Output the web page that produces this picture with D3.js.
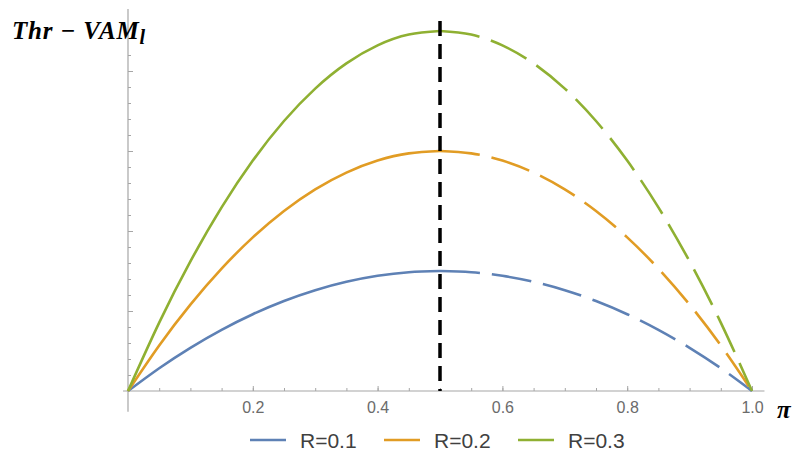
<!DOCTYPE html>
<html>
<head>
<meta charset="utf-8">
<script src="https://cdn.jsdelivr.net/npm/d3@7"></script>
<style>
  body { margin: 0; background: #fff; }
  svg { display: block; }
</style>
</head>
<body>
<div id="chart"></div>
<script>
// datos
const piValues = [0, 0.05, 0.1, 0.15, 0.2, 0.25, 0.3, 0.35, 0.4, 0.45, 0.5,
  0.55, 0.6, 0.65, 0.7, 0.75, 0.8, 0.85, 0.9, 0.95, 1.0];
const serieR01 = [0, 0.285, 0.54, 0.765, 0.96, 1.125, 1.26, 1.365, 1.44, 1.485, 1.5,
  1.485, 1.44, 1.365, 1.26, 1.125, 0.96, 0.765, 0.54, 0.285, 0];
const serieR02 = [0, 0.57, 1.08, 1.53, 1.92, 2.25, 2.52, 2.73, 2.88, 2.97, 3.0,
  2.97, 2.88, 2.73, 2.52, 2.25, 1.92, 1.53, 1.08, 0.57, 0];
const serieR03 = [0, 0.855, 1.62, 2.295, 2.88, 3.375, 3.78, 4.095, 4.32, 4.455, 4.5,
  4.455, 4.32, 4.095, 3.78, 3.375, 2.88, 2.295, 1.62, 0.855, 0];
const seriesLabels = ["R=0.1", "R=0.2", "R=0.3"];
const xTickLabels = [0.2, 0.4, 0.6, 0.8, 1.0];
const umbral = 0.5;

const WIDTH = 795;
const HEIGHT = 464;
const COLORES = ["#5E81B5", "#E19C24", "#8FB032"];

const svg = d3.select("#chart")
  .append("svg")
  .attr("width", WIDTH)
  .attr("height", HEIGHT);

const x = d3.scaleLinear().domain([0, 1]).range([128, 752]);
const y = d3.scaleLinear().domain([0, 4.775]).range([391, 9]);

const gris = "#a6a6a6";

// Ejes
svg.append("line")
  .attr("x1", x(-0.008)).attr("x2", x(1.02))
  .attr("y1", y(0)).attr("y2", y(0))
  .attr("stroke", gris).attr("stroke-width", 1.2);

svg.append("line")
  .attr("x1", x(0)).attr("x2", x(0))
  .attr("y1", y(4.775)).attr("y2", y(-0.26))
  .attr("stroke", gris).attr("stroke-width", 1.2);

// Marcas menores eje x
const ejeXMenor = d3.axisBottom(x)
  .tickValues(d3.range(1, 20).map(i => i * 0.05))
  .tickSize(-3)
  .tickFormat("");

svg.append("g")
  .attr("transform", `translate(0,${y(0)})`)
  .call(ejeXMenor)
  .call(g => g.select(".domain").remove())
  .call(g => g.selectAll("line").attr("stroke", gris));

const ejeX = d3.axisBottom(x)
  .tickValues(xTickLabels)
  .tickSize(-5)
  .tickPadding(11)
  .tickFormat(d3.format(".1f"));

svg.append("g")
  .attr("transform", `translate(0,${y(0)})`)
  .call(ejeX)
  .call(g => g.select(".domain").remove())
  .call(g => g.selectAll("line").attr("stroke", gris))
  .call(g => g.selectAll("text")
    .attr("fill", "#6b6b6b")
    .style("font-family", "'Liberation Sans', Arial, sans-serif")
    .style("font-size", "16px"));

// Marcas eje y
const ejeYMenor = d3.axisRight(y)
  .tickValues(d3.range(1, 22).map(i => i * 0.2))
  .tickSize(3)
  .tickFormat("");

svg.append("g")
  .attr("transform", `translate(${x(0)},0)`)
  .call(ejeYMenor)
  .call(g => g.select(".domain").remove())
  .call(g => g.selectAll("line").attr("stroke", gris));

const ejeYMayor = d3.axisRight(y)
  .tickValues([1, 2, 3, 4])
  .tickSize(5)
  .tickFormat("");

svg.append("g")
  .attr("transform", `translate(${x(0)},0)`)
  .call(ejeYMayor)
  .call(g => g.select(".domain").remove())
  .call(g => g.selectAll("line").attr("stroke", gris));

// Curvas
const linea = d3.line()
  .x(d => x(d[0]))
  .y(d => y(d[1]))
  .curve(d3.curveNatural);

[serieR01, serieR02, serieR03].forEach((serie, i) => {
  const puntos = piValues.map((p, j) => [p, serie[j]]);
  const solida = puntos.filter(d => d[0] <= umbral);
  const punteada = puntos.filter(d => d[0] >= umbral);

  svg.append("path")
    .attr("d", linea(solida))
    .attr("fill", "none")
    .attr("stroke", COLORES[i])
    .attr("stroke-width", 2.6);

  svg.append("path")
    .attr("d", linea(punteada))
    .attr("fill", "none")
    .attr("stroke", COLORES[i])
    .attr("stroke-width", 2.6)
    .attr("stroke-dasharray", "40,12");
});

// Línea vertical en pi = 0.5
svg.append("line")
  .attr("x1", x(umbral)).attr("x2", x(umbral))
  .attr("y1", 21).attr("y2", y(0))
  .attr("stroke", "#000")
  .attr("stroke-width", 3.5)
  .attr("stroke-dasharray", "15,8");

// Títulos de ejes
const etiquetaY = svg.append("text")
  .attr("x", 12)
  .attr("y", 39)
  .attr("fill", "#000")
  .style("font-family", "'Liberation Serif', 'Times New Roman', serif")
  .style("font-weight", "bold")
  .style("font-style", "italic")
  .style("font-size", "25px")
  .style("letter-spacing", "0.8px");
etiquetaY.append("tspan").text("Thr − VAM");
etiquetaY.append("tspan").attr("dy", 5).style("font-size", "20px").text("l");

svg.append("text")
  .attr("x", 777)
  .attr("y", 418)
  .attr("fill", "#000")
  .style("font-family", "'Liberation Serif', 'Times New Roman', serif")
  .style("font-weight", "bold")
  .style("font-style", "italic")
  .style("font-size", "25px")
  .text("π");

// Leyenda
const leyendaX = [250, 384, 518];
const leyenda = svg.append("g");
seriesLabels.forEach((lab, i) => {
  leyenda.append("line")
    .attr("x1", leyendaX[i]).attr("x2", leyendaX[i] + 36)
    .attr("y1", 440).attr("y2", 440)
    .attr("stroke", COLORES[i])
    .attr("stroke-width", 2.4);
  leyenda.append("text")
    .attr("x", leyendaX[i] + 50)
    .attr("y", 447.5)
    .attr("fill", "#404040")
    .style("font-family", "'Liberation Sans', Arial, sans-serif")
    .style("font-size", "21px")
    .text(lab);
});
</script>
</body>
</html>
